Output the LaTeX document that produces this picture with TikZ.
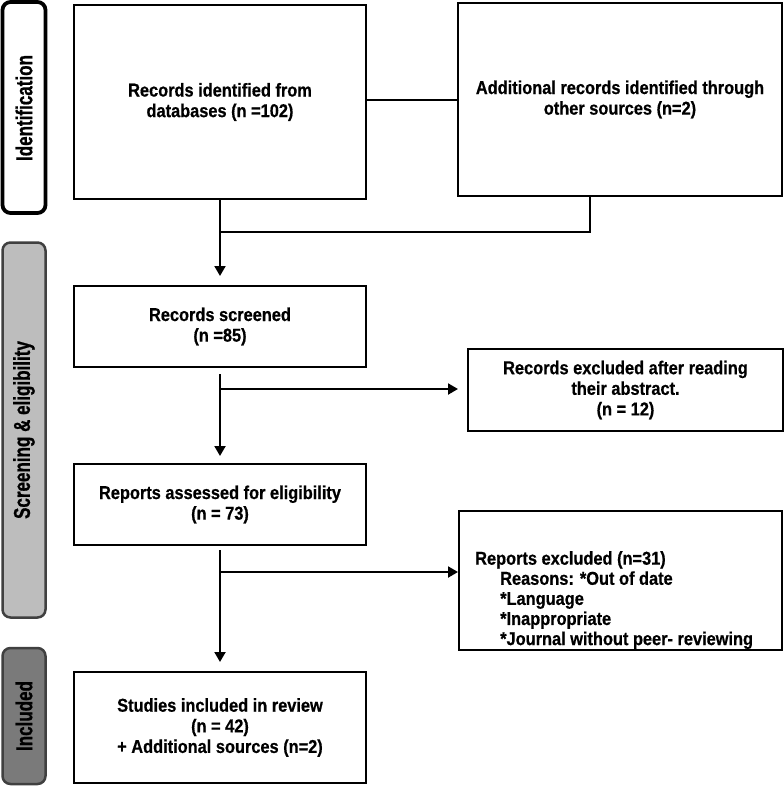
\documentclass[tikz,border=0pt]{standalone}
\usepackage{fontspec}
\usetikzlibrary{arrows.meta}
\newfontfamily\mainf[FakeStretch=0.88,FakeBold=0.6]{Liberation Sans}
\newfontfamily\sidef[FakeStretch=0.74,FakeBold=0.8]{Liberation Sans}
\begin{document}
\begin{tikzpicture}[x=1pt,y=-1pt,
  box/.style={draw=black, line width=2pt, fill=white, rectangle, inner sep=0pt,
    align=center, font=\mainf\bfseries\fontsize{18.6}{20.6}\selectfont},
  txt/.style={inner sep=0pt, align=left, font=\mainf\bfseries\fontsize{18.6}{20.1}\selectfont},
  side/.style={rounded corners=8pt, rectangle, inner sep=0pt, minimum width=43pt},
  sidetxt/.style={rotate=90, inner sep=0pt, font=\sidef\bfseries\fontsize{23}{25}\selectfont},
  line/.style={draw=black, line width=2pt},
  arr/.style={line, -{Triangle[length=10pt,width=11pt]}}]
\useasboundingbox[fill=white] (0,0) rectangle (784,790);

% side bars
\node[side, draw=black, line width=3.8pt, fill=white, minimum height=211pt] (sid) at (24,107.5) {};
\node[sidetxt] (sidt) at (24,108) {Identification};
\node[side, draw=black!75, line width=2.5pt, fill=black!26, minimum height=375pt] (sscr) at (24,430) {};
\node[sidetxt] (sscrt) at (24,430) {Screening \& eligibility};
\node[side, draw=black!75, line width=2.5pt, fill=black!52, minimum height=136pt] (sinc) at (24,716) {};
\node[sidetxt] (sinct) at (24,716) {Included};

% boxes
\node[box, minimum width=292pt, minimum height=194pt] (b1) at (220,102) {Records identified from\\databases (n =102)};
\node[box, minimum width=324pt, minimum height=193pt] (b2) at (620,99.5) {Additional records identified through\\other sources (n=2)};
\node[box, minimum width=292pt, minimum height=81pt] (scr) at (220,326.5) {Records screened\\(n =85)};
\node[box, minimum width=315pt, minimum height=82pt] (rexc) at (625.5,390) {Records excluded after reading\\their abstract.\\(n = 12)};
\node[box, minimum width=292pt, minimum height=81pt] (ass) at (220,504.5) {Reports assessed for eligibility\\(n = 73)};
\node[box, minimum width=323pt, minimum height=139pt] (rex2) at (620.5,580.5) {};
\node[txt, anchor=north west] (rex2t) at (475,551) {Reports excluded (n=31)\\\hspace*{25pt}Reasons: *Out of date\\\hspace*{25pt}*Language\\\hspace*{25pt}*Inappropriate\\\hspace*{25pt}*Journal without peer- reviewing};
\node[box, minimum width=292pt, minimum height=111pt] (inc) at (220,727.5) {Studies included in review\\(n = 42)\\+ Additional sources (n=2)};

% connectors
\coordinate (j) at (400,100);
\draw[line] (b1.east |- j) -- (b2.west |- j);
\coordinate (m1) at (590,232);
\draw[line] (b2.south -| m1) -- (m1) -- (m1 -| b1.south);
\draw[arr, shorten >=9pt] (b1.south) -- (scr.north);
\draw[arr, shorten <=6pt, shorten >=7pt] (scr.south) -- (ass.north);
\coordinate (br1) at (220,389);
\draw[arr, shorten >=9pt] (br1) -- (br1 -| rexc.west);
\draw[arr, shorten <=4pt, shorten >=9pt] (ass.south) -- (inc.north);
\coordinate (br2) at (220,572);
\draw[arr] (br2) -- (br2 -| rex2.west);
\end{tikzpicture}
\end{document}
